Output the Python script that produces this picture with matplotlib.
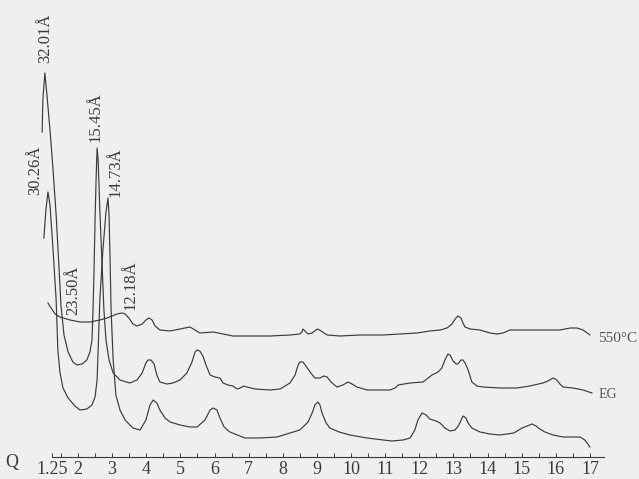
import matplotlib.pyplot as plt
from matplotlib.ticker import FixedLocator

# 2theta positions and relative intensity
tt_nat = [1.00, 1.06, 1.12, 1.18, 1.27, 1.36, 1.41, 1.47, 1.56, 1.71, 1.91, 2.06, 2.26, 2.41, 2.50,
          2.56, 2.59, 2.64, 2.73, 2.82, 2.88, 2.91, 2.94, 2.97, 3.03, 3.11, 3.23, 3.38, 3.61, 3.82,
          3.99, 4.11, 4.20, 4.31, 4.40, 4.55, 4.70, 4.99, 5.28, 5.49, 5.72, 5.87, 5.96, 6.07, 6.16,
          6.28, 6.45, 6.89, 7.33, 7.83, 8.21, 8.50, 8.74, 8.86, 8.94, 9.03, 9.09, 9.15, 9.27, 9.38,
          9.65, 9.97, 10.47, 10.94, 11.20, 11.52, 11.73, 11.87, 11.96, 12.08, 12.20, 12.31, 12.49,
          12.61, 12.75, 12.90, 13.05, 13.16, 13.28, 13.37, 13.43, 13.54, 13.78, 14.07, 14.36, 14.77,
          15.01, 15.16, 15.30, 15.42, 15.53, 15.68, 15.92, 16.21, 16.50, 16.71, 16.85, 17.00]
int_nat = [222, 250, 268, 255, 210, 160, 110, 88, 72, 62, 54, 50, 51, 55, 63,
           80, 110, 160, 210, 248, 262, 245, 200, 150, 100, 65, 50, 40, 32, 30,
           40, 55, 60, 57, 50, 42, 38, 35, 33, 33, 40, 50, 52, 50, 42,
           33, 28, 22, 22, 23, 27, 30, 38, 47, 55, 58, 55, 47, 37, 32,
           28, 25, 22, 20, 19, 20, 22, 30, 40, 47, 45, 41, 39,
           37, 32, 29, 30, 35, 44, 42, 37, 32, 28, 26, 25, 27,
           32, 34, 36, 34, 31, 28, 25, 23, 23, 23, 20, 13]

tt_eg = [0.95, 0.97, 1.03, 1.09, 1.18, 1.27, 1.36, 1.44, 1.50, 1.59, 1.71, 1.85, 1.97, 2.12, 2.26,
         2.35, 2.41, 2.44, 2.47, 2.50, 2.53, 2.56, 2.59, 2.64, 2.70, 2.76, 2.82, 2.91, 3.03, 3.23,
         3.52, 3.73, 3.88, 3.99, 4.05, 4.14, 4.23, 4.31, 4.40, 4.61, 4.78, 4.99, 5.19, 5.34, 5.43,
         5.49, 5.57, 5.66, 5.75, 5.87, 6.01, 6.16, 6.25, 6.39, 6.54, 6.66, 6.75, 6.86, 6.95, 7.19,
         7.63, 7.92, 8.21, 8.36, 8.45, 8.50, 8.59, 8.68, 8.80, 8.94, 9.09, 9.21, 9.30, 9.41, 9.59,
         9.76, 9.91, 10.03, 10.17, 10.47, 10.85, 11.14, 11.29, 11.38, 11.73, 12.11, 12.37, 12.55,
         12.66, 12.75, 12.84, 12.90, 12.99, 13.08, 13.13, 13.22, 13.28, 13.34, 13.43, 13.54, 13.69,
         13.87, 14.36, 14.86, 15.24, 15.62, 15.77, 15.92, 16.03, 16.12, 16.21, 16.50, 16.80, 17.06]
int_eg = [328, 360, 387, 365, 330, 290, 245, 195, 155, 125, 108, 98, 95, 96, 100,
          108, 120, 150, 190, 240, 280, 312, 300, 250, 200, 150, 120, 100, 87, 80,
          77, 80, 87, 97, 100, 100, 96, 85, 78, 76, 77, 80, 87, 98, 108,
          110, 109, 104, 95, 85, 83, 82, 77, 75, 74, 71, 72, 74, 73, 71,
          70, 71, 77, 85, 95, 98, 98, 94, 88, 82, 82, 84, 83, 78, 73,
          75, 78, 76, 73, 70, 70, 70, 72, 75, 77, 78, 85, 88,
          92, 100, 106, 105, 99, 96, 96, 100, 100, 97, 90, 78, 74,
          73, 72, 72, 74, 77, 79, 82, 80, 76, 73, 72, 70, 67]

tt_550 = [1.12, 1.21, 1.33, 1.47, 1.77, 2.06, 2.35, 2.64, 2.85, 3.00, 3.14, 3.29, 3.38, 3.49, 3.61,
          3.73, 3.88, 3.99, 4.08, 4.17, 4.26, 4.40, 4.70, 4.99, 5.28, 5.43, 5.57, 5.96, 6.54, 7.04,
          7.63, 8.21, 8.50, 8.56, 8.59, 8.65, 8.74, 8.86, 8.97, 9.03, 9.12, 9.30, 9.68, 10.26, 10.94,
          11.43, 11.93, 12.31, 12.61, 12.81, 12.96, 13.05, 13.13, 13.22, 13.28, 13.34, 13.49, 13.78,
          14.07, 14.28, 14.45, 14.66, 14.95, 15.33, 15.68, 16.12, 16.42, 16.62, 16.80, 17.00]
int_550 = [157, 152, 146, 143, 140, 138, 138, 140, 142, 144, 146, 147, 146, 142, 136,
           134, 136, 140, 142, 140, 134, 130, 129, 131, 133, 130, 127, 128, 124, 124,
           124, 125, 126, 128, 131, 129, 126, 127, 130, 131, 129, 125, 124, 125, 125,
           126, 127, 129, 130, 132, 136, 141, 144, 142, 137, 133, 131, 130,
           127, 126, 127, 130, 130, 130, 130, 130, 132, 132, 130, 125]

tick_pos = [1.25, 2, 3, 4, 5, 6, 7, 8, 9, 10, 11, 12, 13, 14, 15, 16, 17]
tick_lbl = ['1.25', '2', '3', '4', '5', '6', '7', '8', '9', '10', '11', '12', '13', '14', '15', '16', '17']
minor_pos = [1.5, 2.5, 3.5, 4.5, 5.5, 6.5, 7.5, 8.5, 9.5, 10.5, 11.5, 12.5, 13.5, 14.5, 15.5, 16.5]

# d-spacing labels: (text, 2theta, height)
peak_lbl = [('32.01Å', 1.03, 422), ('30.26Å', 0.74, 290), ('15.45Å', 2.50, 343),
            ('14.73Å', 3.11, 288), ('23.50Å', 1.85, 170), ('12.18Å', 3.55, 175)]

ink = '#3a3a3a'
plt.rcParams['font.family'] = ['Liberation Serif', 'DejaVu Serif']

fig = plt.figure(figsize=(6.39, 4.79), dpi=100, facecolor='#efefed')
ax = fig.add_axes([0, 0, 1, 1])
ax.set_facecolor('#efefed')

ax.plot(tt_nat, int_nat, color=ink, lw=0.85)
ax.plot(tt_eg, int_eg, color=ink, lw=0.85)
ax.plot(tt_550, int_550, color=ink, lw=0.85)

for txt, x, y in peak_lbl:
    ax.text(x, y, txt, rotation=90, ha='center', va='center', fontsize=12, color=ink)

ax.text(17.24, 122, '550°C', ha='left', va='center', fontsize=11, color='#555555')
ax.text(17.24, 65, 'EG', ha='left', va='center', fontsize=10, color='#555555')
ax.text(0.07, -3, 'Q', ha='center', va='center', fontsize=13, color=ink)

ax.set_xlim(-0.285, 18.437)
ax.set_ylim(-19, 460)

for s in ['top', 'left', 'right']:
    ax.spines[s].set_visible(False)
ax.spines['bottom'].set_position(('data', 3))
ax.spines['bottom'].set_bounds(1.25, 17.4)
ax.spines['bottom'].set_color(ink)
ax.spines['bottom'].set_linewidth(0.8)
ax.yaxis.set_visible(False)

ax.xaxis.set_major_locator(FixedLocator(tick_pos))
ax.set_xticklabels(tick_lbl)
ax.xaxis.set_minor_locator(FixedLocator(minor_pos))
ax.tick_params(axis='x', which='both', direction='in', length=3, width=0.7, color=ink,
               labelsize=13, labelcolor=ink, pad=3)

fig.savefig('out.png', dpi=100, facecolor=fig.get_facecolor())
